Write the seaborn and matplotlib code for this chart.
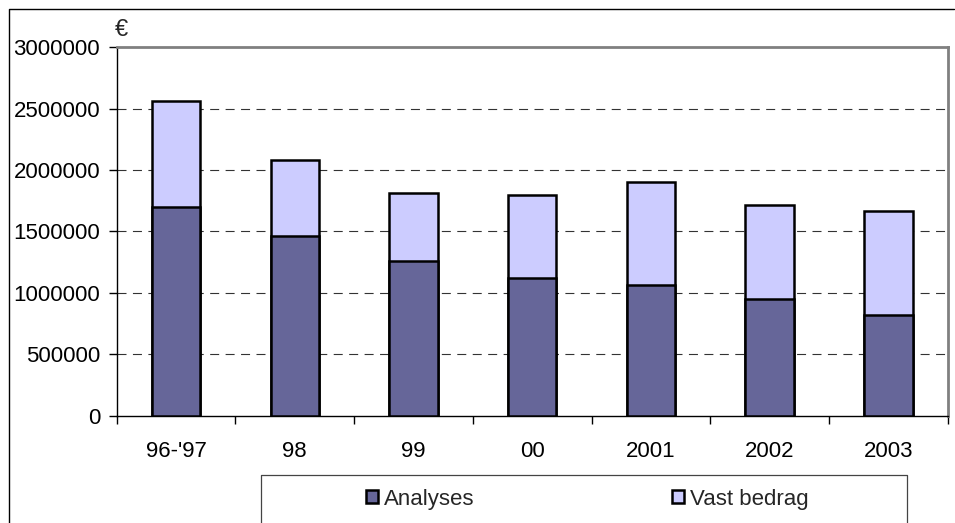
import matplotlib
matplotlib.use("Agg")
import matplotlib.pyplot as plt
from matplotlib.lines import Line2D
from matplotlib.patches import Patch
import seaborn as sns
import pandas as pd

# Data (euro)
jaren = ["96-'97", "98", "99", "00", "2001", "2002", "2003"]
analyses = [1700000, 1465000, 1260000, 1124000, 1064000, 948000, 818000]
vast_bedrag = [860000, 615000, 556000, 671000, 842000, 768000, 849000]
y_ticks = [0, 500000, 1000000, 1500000, 2000000, 2500000, 3000000]

df = pd.DataFrame({"jaar": jaren, "Analyses": analyses, "Vast bedrag": vast_bedrag})
df["totaal"] = df["Analyses"] + df["Vast bedrag"]

kleur_analyses = "#666699"
kleur_vast = "#CCCCFF"
FS = 16

sns.set_theme(style="white")
plt.rcParams["font.family"] = ["Liberation Sans", "DejaVu Sans"]

W, H = 955, 523
fig = plt.figure(figsize=(W / 100, H / 100), dpi=100)
ax = fig.add_axes([116.7 / W, 1 - 415.7 / H, (947.7 - 116.7) / W, (415.7 - 47.3) / H])

# Stacked bars: full height first, then the lower segment on top
sns.barplot(data=df, x="jaar", y="totaal", color=kleur_vast, saturation=1,
            edgecolor="black", linewidth=1.8, width=0.407, ax=ax, zorder=3)
sns.barplot(data=df, x="jaar", y="Analyses", color=kleur_analyses, saturation=1,
            edgecolor="black", linewidth=1.8, width=0.407, ax=ax, zorder=3)

ax.set_xlim(-0.5, len(jaren) - 0.5)
ax.set_ylim(0, 3000000)
ax.set_xlabel("")
ax.set_ylabel("")

ax.set_yticks(y_ticks)
ax.set_yticklabels([str(v) for v in y_ticks], fontsize=FS, color="black")
ax.set_xticks(range(len(jaren)))
ax.set_xticklabels(jaren, fontsize=FS, color="black")
ax.set_xticks([i - 0.5 for i in range(len(jaren) + 1)], minor=True)
ax.tick_params(axis="x", which="major", length=0, pad=18)
ax.tick_params(axis="x", which="minor", length=6, width=1, color="black", direction="out", bottom=True)
ax.tick_params(axis="y", which="major", length=6, width=1, color="black", direction="out", left=True, pad=6)

# Dashed horizontal gridlines
for v in y_ticks[1:-1]:
    ax.axhline(v, color="#333333", lw=0.8, linestyle=(0, (8.1, 5.8)), zorder=1)

for side in ["left", "bottom"]:
    ax.spines[side].set_color("black")
    ax.spines[side].set_linewidth(1.0)
for side in ["top", "right"]:
    ax.spines[side].set_color("#808080")
    ax.spines[side].set_linewidth(2.0)
    ax.spines[side].set_visible(True)

# Currency unit above the value axis
fig.text(121.7 / W, 1 - 30 / H, "€", fontsize=FS + 1, ha="center", va="center")

# Outer chart border
fig.add_artist(Line2D([9 / W, 9 / W, 954 / W], [0, 1 - 9 / H, 1 - 9 / H],
                      transform=fig.transFigure, color="black", lw=1.0))

# Legend frame
fig.add_artist(Line2D([261 / W, 261 / W, 907 / W, 907 / W], [0, 1 - 475 / H, 1 - 475 / H, 0],
                      transform=fig.transFigure, color="#444444", lw=0.9))

handles = [Patch(facecolor=kleur_analyses, edgecolor="black", linewidth=1.8, label="Analyses"),
           Patch(facecolor=kleur_vast, edgecolor="black", linewidth=1.8, label="Vast bedrag")]
fig.legend(handles=handles, loc="center left", bbox_to_anchor=(365.7 / W, 1 - 499 / H),
           ncol=2, frameon=False, fontsize=FS, handlelength=0.55, handleheight=0.55,
           handletextpad=0.25, columnspacing=8.9, borderpad=0, borderaxespad=0)

fig.savefig("out.png", dpi=100, facecolor="white")
